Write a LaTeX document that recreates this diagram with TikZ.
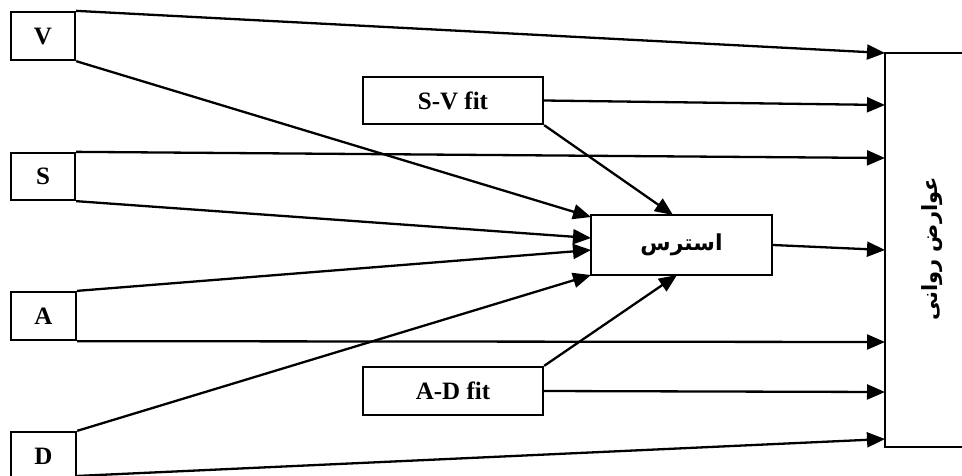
\documentclass[tikz,border=0pt]{standalone}
\usepackage{fontspec}
\setmainfont{Liberation Serif}
\newfontfamily\arabicfont[Script=Arabic]{DejaVu Sans}
\TeXXeTstate=1
\usetikzlibrary{arrows.meta}
\begin{document}
\begin{tikzpicture}[x=1pt,y=-1pt,
  box/.style={draw,line width=2.3pt,rectangle,inner sep=0pt,
    font=\fontsize{25}{29}\selectfont\bfseries},
  arr/.style={line width=2.3pt,-{Triangle[length=18pt,width=15pt]}},
  ]
\useasboundingbox (0,0) rectangle (962,475);
\clip (0,0) rectangle (962,475);
\node[box,minimum width=64pt,minimum height=48pt] (V) at (43,36) {V};
\node[box,minimum width=64pt,minimum height=47pt] (S) at (43,176.5) {S};
\node[box,minimum width=65pt,minimum height=48pt] (A) at (43.5,316) {A};
\node[box,minimum width=65pt,minimum height=48pt] (D) at (43.5,456) {D};
\node[box,minimum width=180pt,minimum height=47pt] (SV) at (453,100.5) {S-V fit};
\node[box,minimum width=180pt,minimum height=48pt] (AD) at (453,391) {A-D fit};
\node[box,minimum width=181pt,minimum height=60pt,font=\arabicfont\bfseries\fontsize{22}{26}\selectfont] (st) at (681.5,245) {\beginR استرس\endR};
\node[box,minimum width=110pt,minimum height=394pt] (out) at (940,250) {};
\node[rotate=90,font=\arabicfont\bfseries\fontsize{21}{24}\selectfont] (outt) at (932,249) {\beginR عوارض روانی\endR};
% endpoints
\coordinate (o1) at (885,53);
\coordinate (o2) at (885,105);
\coordinate (o3) at (885,158);
\coordinate (o4) at (885,250);
\coordinate (o5) at (885,342);
\coordinate (o6) at (885,392);
\coordinate (o7) at (885,439);
\coordinate (s1) at (591,217);
\coordinate (s2) at (591,238);
\coordinate (s3) at (591,250);
\coordinate (s4) at (591,275);
\coordinate (s5) at (673,215);
\coordinate (s6) at (677,275);
\coordinate (d2) at (76,476);
% connectors
\draw[arr] (V.north east) -- (o1);
\draw[arr] (V.south east) -- (s1);
\draw[arr] (S.north east) -- (o3);
\draw[arr] (S.south east) -- (s2);
\draw[arr] (A.north east) -- (s3);
\draw[arr] (A.south east) -- (o5);
\draw[arr] (D.north east) -- (s4);
\draw[arr] (d2) -- (o7);
\draw[arr] (SV.east) -- (o2);
\draw[arr] (SV.south east) -- (s5);
\draw[arr] (st.east) -- (o4);
\draw[arr] (AD.north east) -- (s6);
\draw[arr] (AD.east) -- (o6);
\end{tikzpicture}
\end{document}
